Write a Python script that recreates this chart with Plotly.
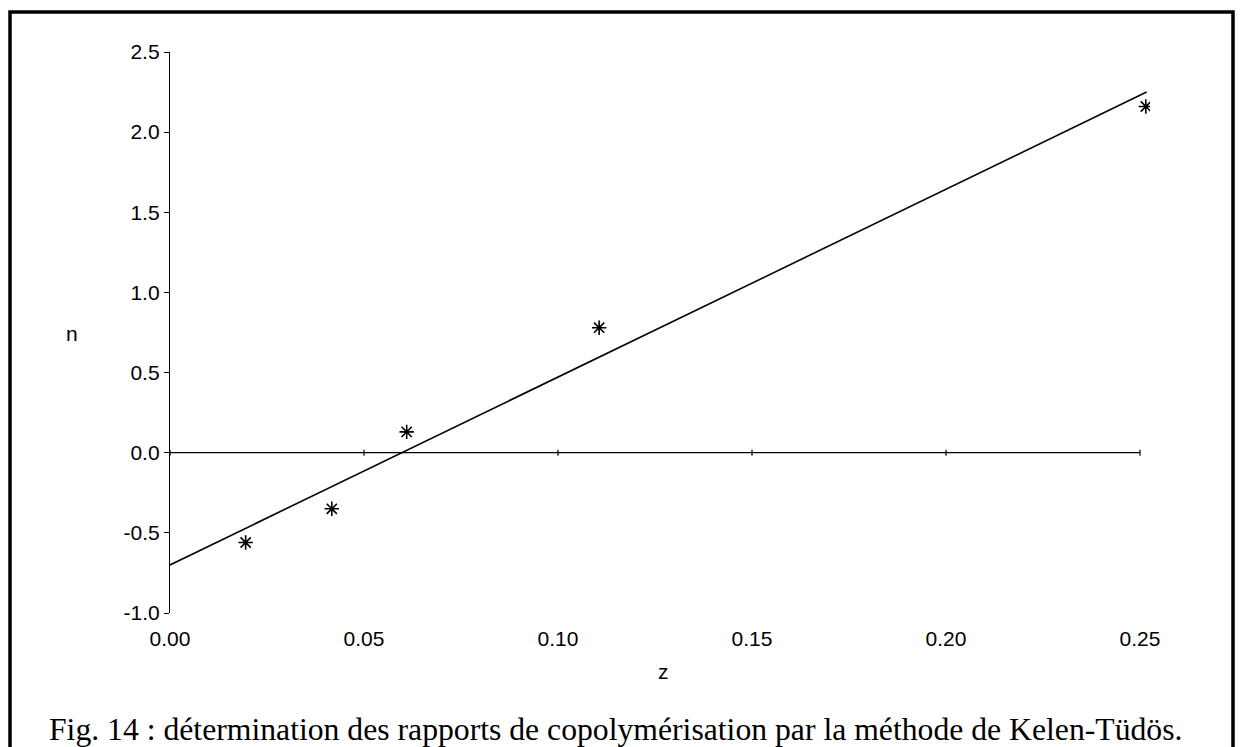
import plotly.graph_objects as go

# Data
z_points = [0.0195, 0.0417, 0.0610, 0.1106, 0.2515]
n_points = [-0.56, -0.35, 0.13, 0.78, 2.16]

z_fit = [0.0, 0.2517]
n_fit = [-0.70, 2.25]

x_ticks = [0.00, 0.05, 0.10, 0.15, 0.20, 0.25]
y_ticks = [-1.0, -0.5, 0.0, 0.5, 1.0, 1.5, 2.0, 2.5]

caption = "Fig. 14 : détermination des rapports de copolymérisation par la méthode de Kelen-Tüdös."

W, H = 1240, 747
ML, MR, MT, MB = 170, 90, 52, 134
PW, PH = W - ML - MR, H - MT - MB
X_AXIS_END = 0.25          # last tick of the drawn axis
X0_PX, X_END_PX = 170, 1140  # pixel positions of 0.00 and 0.25
x_max = X_AXIS_END * PW / (X_END_PX - X0_PX)

def px(x):
    return (x - ML) / PW

def py(y):
    return (H - MB - y) / PH

fig = go.Figure()

fig.add_trace(go.Scatter(
    x=z_fit, y=n_fit, mode="lines",
    line=dict(color="black", width=1.6),
    showlegend=False,
))
fig.add_trace(go.Scatter(
    x=z_points, y=n_points, mode="markers",
    marker=dict(symbol="asterisk-open", size=12, color="black",
                line=dict(color="black", width=1.6)),
    showlegend=False,
))

font_axis = dict(family="Liberation Sans, Arial, sans-serif", size=21, color="black")

shapes = [
    # outer frame
    dict(type="rect", xref="paper", yref="paper",
         x0=px(10), x1=px(1233), y0=py(775), y1=py(12),
         line=dict(color="black", width=3.5), fillcolor="rgba(0,0,0,0)", layer="below"),
    # horizontal axis drawn through n = 0
    dict(type="line", xref="x", yref="y", x0=x_ticks[0], x1=x_ticks[-1], y0=0, y1=0,
         line=dict(color="black", width=1.3)),
]
for t in x_ticks:
    shapes.append(dict(type="line", xref="x", yref="y", ysizemode="pixel", yanchor=0,
                       x0=t, x1=t, y0=-3, y1=3,
                       line=dict(color="black", width=1.2)))

fig.update_layout(
    width=W, height=H,
    margin=dict(l=ML, r=MR, t=MT, b=MB, pad=0),
    paper_bgcolor="white", plot_bgcolor="white",
    xaxis=dict(
        range=[0, x_max], tickvals=x_ticks, ticktext=[f"{v:.2f}" for v in x_ticks],
        showline=False, showgrid=False, zeroline=False,
        ticks="outside", ticklen=7, tickcolor="rgba(0,0,0,0)",
        tickfont=font_axis,
    ),
    yaxis=dict(
        range=[-1.0, 2.5], tickvals=y_ticks, ticktext=[f"{v:.1f}" for v in y_ticks],
        showline=True, linecolor="black", linewidth=1.3,
        ticks="outside", ticklen=5, tickcolor="black", tickwidth=1.2,
        showgrid=False, zeroline=False, tickfont=font_axis,
    ),
    annotations=[
        dict(text="n", x=px(72), y=py(333), xref="paper", yref="paper",
             showarrow=False, font=font_axis, xanchor="center", yanchor="middle"),
        dict(text="z", x=px(663), y=py(671), xref="paper", yref="paper",
             showarrow=False, font=font_axis, xanchor="center", yanchor="middle"),
        dict(text=caption, x=px(615), y=py(729), xref="paper", yref="paper",
             showarrow=False, xanchor="center", yanchor="middle",
             font=dict(family="Liberation Serif, Times New Roman, serif", size=31.7, color="black")),
    ],
    shapes=shapes,
)

fig.write_html("out.html")
